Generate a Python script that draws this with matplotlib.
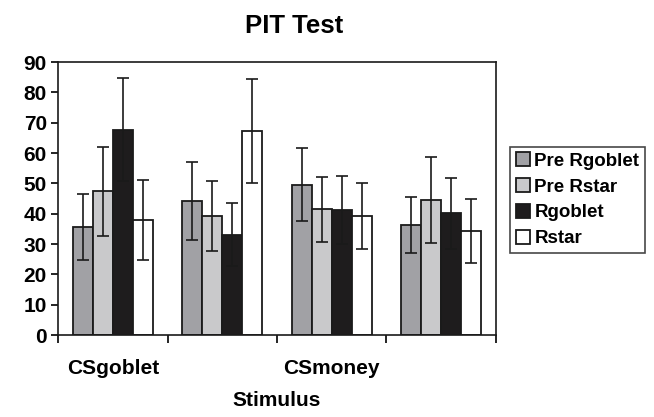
import matplotlib
matplotlib.use("Agg")
import matplotlib.pyplot as plt
import numpy as np

plt.rcParams['font.family'] = ['Liberation Sans', 'DejaVu Sans']
plt.rcParams['font.weight'] = 'bold'

# data
groups = ["CSgoblet", "", "CSmoney", ""]
series = ["Pre Rgoblet", "Pre Rstar", "Rgoblet", "Rstar"]
pre_rgoblet = [35.6, 44.2, 49.6, 36.4]
pre_rstar = [47.4, 39.2, 41.4, 44.4]
rgoblet = [67.7, 33.0, 41.2, 40.1]
rstar = [37.8, 67.3, 39.2, 34.2]
err_pre_rgoblet = [11.0, 12.9, 11.9, 9.2]
err_pre_rstar = [14.6, 11.5, 10.8, 14.2]
err_rgoblet = [16.9, 10.4, 11.2, 11.6]
err_rstar = [13.2, 17.2, 10.9, 10.6]

values = [pre_rgoblet, pre_rstar, rgoblet, rstar]
errors = [err_pre_rgoblet, err_pre_rstar, err_rgoblet, err_rstar]
colors = ['#a1a1a5', '#c9c9cb', '#1e1c1d', '#ffffff']

fig = plt.figure(figsize=(6.54, 4.17), dpi=100)
ax = fig.add_axes([0.0887, 0.1966, 0.6697, 0.6547])

x = np.arange(len(groups))
width = 0.182
for i, (vals, errs, col, name) in enumerate(zip(values, errors, colors, series)):
    pos = x + (i - 1.5) * width
    ax.bar(pos, vals, width, color=col, edgecolor='#1a1a1a', linewidth=1.3,
           label=name, zorder=2)
    ax.errorbar(pos, vals, yerr=errs, fmt='none', ecolor='#1a1a1a',
                elinewidth=1.2, capsize=4.5, capthick=1.2, zorder=3)

ax.set_xlim(-0.5, 3.5)
ax.set_ylim(0, 90)
ax.set_yticks(range(0, 91, 10))
ax.set_xticks(x)
ax.set_xticklabels(groups)
ax.set_xticks(np.arange(-0.5, 4, 1), minor=True)
ax.tick_params(axis='x', which='major', length=0, pad=17, labelsize=15)
ax.tick_params(axis='x', which='minor', length=6, width=1.2, direction='out')
ax.tick_params(axis='y', length=5, width=1.2, labelsize=15, pad=3)
for s in ax.spines.values():
    s.set_linewidth(1.2)
    s.set_color('#1a1a1a')

ax.set_xlabel("Stimulus", fontsize=15, fontweight='bold')
ax.xaxis.set_label_coords(0.5, -0.205)
fig.text(0.45, 0.937, "PIT Test", ha='center', va='center', fontsize=18.5,
         fontweight='bold')

leg = ax.legend(loc='upper left', bbox_to_anchor=(1.032, 0.69), fontsize=13.5,
                frameon=True, fancybox=False, edgecolor='#1a1a1a',
                handlelength=0.75, handleheight=0.75, handletextpad=0.25,
                borderpad=0.3, labelspacing=0.45, borderaxespad=0)
leg.get_frame().set_linewidth(1.2)

fig.savefig("out.png", dpi=100)
